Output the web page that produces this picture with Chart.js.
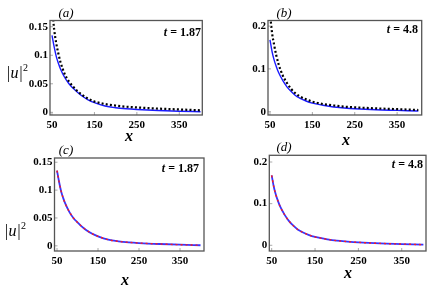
<!DOCTYPE html>
<html>
<head>
<meta charset="utf-8">
<script src="https://cdn.jsdelivr.net/npm/chart.js@4"></script>
<style>
  body { margin: 0; background: #fff; }
  #wrap { position: relative; width: 440px; height: 294px; overflow: hidden; }
  canvas { position: absolute; left: 0; top: 0; }
  .lbl { position: absolute; font-family: 'Liberation Serif', serif; color: #000; white-space: nowrap; transform: translate(-50%, -50%); }
  .pan { font-style: italic; font-size: 13px; }
  .tt { font-weight: bold; font-size: 12px; transform: translate(-100%, -50%); }
  .tt i { font-weight: bold; }
  .ax { font-style: italic; font-weight: bold; font-size: 16px; }
  .uu { font-style: italic; font-size: 16px; }
  .uu sup { font-style: normal; font-size: 10px; }
</style>
</head>
<body>
<div id="wrap">
  <canvas id="cA" width="440" height="294"></canvas>
  <canvas id="cB" width="440" height="294"></canvas>
  <canvas id="cC" width="440" height="294"></canvas>
  <canvas id="cD" width="440" height="294"></canvas>

  <div class="lbl pan" style="left:66px;top:13px">(a)</div>
  <div class="lbl pan" style="left:284px;top:13px">(b)</div>
  <div class="lbl pan" style="left:66px;top:150px">(c)</div>
  <div class="lbl pan" style="left:284px;top:147px">(d)</div>

  <div class="lbl tt" style="left:201px;top:32px"><i>t</i> = 1.87</div>
  <div class="lbl tt" style="left:418px;top:29px"><i>t</i> = 4.8</div>
  <div class="lbl tt" style="left:199px;top:168px"><i>t</i> = 1.87</div>
  <div class="lbl tt" style="left:423px;top:164px"><i>t</i> = 4.8</div>

  <div class="lbl uu" style="left:17px;top:72px">|<span>u</span>|<sup>2</sup></div>
  <div class="lbl uu" style="left:15px;top:230px">|<span>u</span>|<sup>2</sup></div>

  <div class="lbl ax" style="left:129px;top:136px">x</div>
  <div class="lbl ax" style="left:346px;top:140px">x</div>
  <div class="lbl ax" style="left:125px;top:280px">x</div>
  <div class="lbl ax" style="left:348px;top:273px">x</div>
</div>
<script>
var xs = [50, 55, 60, 65, 70, 80, 90, 100, 110, 120, 135, 150, 175, 200, 225, 250, 300, 350, 400];

// t = 1.87 : blue solid (also used in panel c, blue and red overlap)
var blueT1 = [0.135, 0.115, 0.098, 0.086, 0.076, 0.061, 0.050, 0.042, 0.035, 0.029, 0.022, 0.017, 0.011, 0.008, 0.0062, 0.005, 0.0033, 0.002, 0.001];
// t = 1.87 : black dotted
var dotT1 = [0.185, 0.146, 0.121, 0.103, 0.088, 0.067, 0.054, 0.045, 0.037, 0.031, 0.024, 0.019, 0.0145, 0.0118, 0.0098, 0.0085, 0.0065, 0.005, 0.0035];

// t = 4.8 : blue solid (also panel d)
var blueT2 = [0.168, 0.140, 0.120, 0.105, 0.092, 0.073, 0.058, 0.047, 0.038, 0.032, 0.025, 0.020, 0.015, 0.011, 0.0088, 0.007, 0.0045, 0.003, 0.0015];
// t = 4.8 : black dotted
var dotT2 = [0.23, 0.183, 0.155, 0.131, 0.112, 0.085, 0.067, 0.053, 0.043, 0.036, 0.029, 0.0235, 0.018, 0.0145, 0.0118, 0.0102, 0.0078, 0.006, 0.004];

var xTicks = [50, 150, 250, 350];
var yTicks1 = [0, 0.05, 0.1, 0.15];
var yTicks2 = [0, 0.1, 0.2];

function pts(ys) {
    return xs.map(function(x, i) { return { x: x, y: ys[i] }; });
}

// frame + small inward ticks
var framePlugin = {
    id: 'frame',
    afterDraw: function(chart) {
        var a = chart.chartArea, ctx = chart.ctx;
        ctx.save();
        ctx.strokeStyle = '#aaa';
        ctx.lineWidth = 1;
        xTicks.forEach(function(v) {
            var px = chart.scales.x.getPixelForValue(v);
            ctx.beginPath(); ctx.moveTo(px, a.bottom); ctx.lineTo(px, a.bottom - 3); ctx.stroke();
        });
        chart.scales.y.ticks.forEach(function(t) {
            var py = chart.scales.y.getPixelForValue(t.value);
            ctx.beginPath(); ctx.moveTo(a.left, py); ctx.lineTo(a.left + 3, py); ctx.stroke();
        });
        ctx.strokeStyle = '#555';
        ctx.lineWidth = 1.3;
        ctx.strokeRect(a.left, a.top, a.right - a.left, a.bottom - a.top);
        ctx.restore();
    }
};

function makePanel(id, frame, xr, yr, yTicks, datasets) {
    var yW = 30, xH = 16;
    new Chart(document.getElementById(id), {
        type: 'line',
        data: { datasets: datasets },
        options: {
            responsive: false,
            animation: false,
            events: [],
            layout: { padding: { left: frame.l - yW, top: frame.t, right: 440 - frame.r, bottom: 294 - frame.b - xH } },
            plugins: { legend: { display: false }, tooltip: { enabled: false } },
            elements: { point: { radius: 0 } },
            scales: {
                x: {
                    type: 'linear', min: xr[0], max: xr[1],
                    afterFit: function(s) { s.height = xH; },
                    afterBuildTicks: function(s) { s.ticks = xTicks.map(function(v) { return { value: v }; }); },
                    grid: { display: false, drawTicks: false },
                    border: { display: false },
                    ticks: { padding: 4, color: '#000', maxRotation: 0, autoSkip: false,
                             font: { family: 'Liberation Serif', weight: 'bold', size: 11 } }
                },
                y: {
                    type: 'linear', min: yr[0], max: yr[1],
                    afterFit: function(s) { s.width = yW; },
                    afterBuildTicks: function(s) { s.ticks = yTicks.map(function(v) { return { value: v }; }); },
                    grid: { display: false, drawTicks: false },
                    border: { display: false },
                    ticks: { padding: 2, color: '#000', autoSkip: false,
                             font: { family: 'Liberation Serif', weight: 'bold', size: 11 },
                             callback: function(v) { return String(+v.toFixed(2)); } }
                }
            }
        },
        plugins: [framePlugin]
    });
}

// order: higher value is drawn first, so the dashed curve (order 0) lands on top
function solid(ys, color, w) {
    return { data: pts(ys), order: 1, borderColor: color, borderWidth: w, cubicInterpolationMode: 'monotone', fill: false };
}
function dashed(ys, color, w, dash) {
    return { data: pts(ys), order: 0, borderColor: color, borderWidth: w, borderDash: dash, borderCapStyle: 'butt', cubicInterpolationMode: 'monotone', fill: false };
}

makePanel('cA', { l: 50, t: 20.5, r: 202.3, b: 115 }, [45.3, 404.2], [-0.0047, 0.1609], yTicks1,
    [solid(blueT1, '#1a1aff', 1.4), dashed(dotT1, '#000', 2.2, [2, 2.2])]);
makePanel('cB', { l: 268, t: 20.5, r: 421.7, b: 115 }, [45.3, 408], [-0.0077, 0.2131], yTicks2,
    [solid(blueT2, '#1a1aff', 1.4), dashed(dotT2, '#000', 2.2, [2, 2.2])]);
makePanel('cC', { l: 54.5, t: 158, r: 204, b: 251 }, [43.9, 408.5], [-0.0093, 0.1576], yTicks1,
    [solid(blueT1, '#3535ff', 1.8), dashed(blueT1, '#ff1a1a', 1.4, [2, 3])]);
makePanel('cD', { l: 269.3, t: 155.3, r: 426, b: 251 }, [44.5, 406], [-0.0137, 0.2161], yTicks2,
    [solid(blueT2, '#3535ff', 1.8), dashed(blueT2, '#ff1a1a', 1.4, [2, 3])]);
</script>
</body>
</html>
